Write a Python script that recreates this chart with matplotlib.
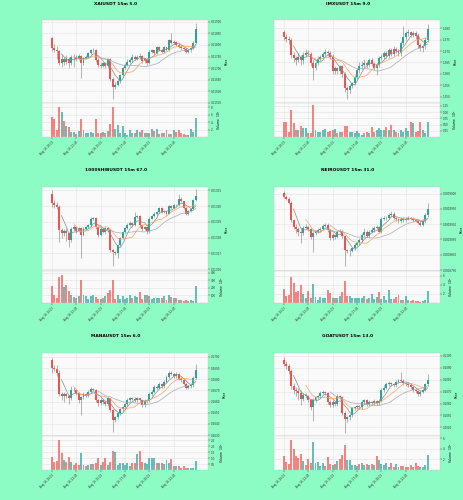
import numpy as np
import pandas as pd
import matplotlib
matplotlib.use('Agg')
import matplotlib.pyplot as plt
from matplotlib.ticker import FormatStrFormatter

# ---- data (prices stored as integers, divided by the unit below) ----
xai_open0 = 21829
xai_close = [21786,21779,21774,21724,21741,21727,21739,21721,21747,21750,
             21741,21753,21721,21743,21747,21764,21776,21779,21736,21714,
             21710,21721,21707,21739,21653,21619,21629,21643,21671,21700,
             21714,21727,21733,21750,21739,21747,21753,21729,21739,21721,
             21771,21776,21767,21790,21779,21771,21790,21779,21819,21810,
             21814,21800,21793,21786,21781,21771,21776,21786,21810,21867]
xai_high = [21836,21805,21795,21780,21760,21750,21755,21748,21758,21762,
            21755,21760,21758,21750,21755,21768,21782,21786,21783,21745,
            21725,21728,21726,21745,21742,21660,21640,21650,21676,21706,
            21720,21740,21745,21760,21757,21756,21765,21757,21744,21745,
            21776,21781,21780,21795,21794,21784,21795,21793,21825,21850,
            21822,21818,21806,21798,21792,21785,21782,21792,21815,21893]
xai_low = [21775,21770,21740,21715,21705,21712,21718,21700,21712,21705,
           21730,21735,21657,21715,21738,21742,21760,21770,21728,21705,
           21700,21704,21700,21700,21645,21567,21612,21622,21638,21666,
           21695,21710,21722,21727,21733,21733,21740,21722,21724,21715,
           21716,21765,21760,21762,21772,21765,21766,21773,21775,21804,
           21805,21795,21786,21780,21775,21764,21766,21770,21782,21805]
xai_vol = [5.5,5.0,1.8,8.0,6.7,4.2,3.0,2.8,1.4,1.4,0.9,1.5,5.0,2.0,1.0,
           1.2,1.3,1.0,5.0,1.2,1.1,1.4,1.2,1.6,3.4,8.2,2.2,3.2,1.2,2.9,
           1.0,0.6,1.8,1.0,1.2,1.8,1.4,2.0,1.2,1.2,1.0,2.2,1.5,2.2,0.8,
           1.0,1.0,1.8,0.8,0.9,2.0,1.4,2.0,1.0,0.8,0.6,0.5,2.3,1.3,5.2]

imx_open0 = 137854
imx_close = [137606,137518,137489,136832,136686,136613,136730,136584,136832,136934,
             136876,136467,136248,136496,136642,136730,136876,136978,136905,136759,
             136102,136248,136102,136321,136000,135372,135270,135474,135591,135854,
             136146,136321,136394,136496,136394,136584,136438,136248,136394,136686,
             136759,136905,136788,137051,136876,137080,137022,136905,137343,137606,
             137781,137839,137708,137810,137664,137270,137124,137226,137489,137956]
imx_high = [137930,137750,137650,137560,136950,136800,136900,136830,136950,137100,
            137050,136950,136600,136560,136760,136830,136960,137080,137050,137000,
            136850,136350,136320,136400,136400,136080,135480,135560,135650,135950,
            136250,136500,136550,136650,136580,136680,136700,136520,136470,136780,
            136850,137000,136980,137150,137120,137200,137180,137100,137450,138100,
            137900,137950,137900,137880,137900,137800,137350,137300,137600,138190]
imx_low = [137500,137400,137300,136700,136500,136400,136500,136400,136450,136750,
           136780,136350,135737,136150,136400,136550,136650,136800,136800,136650,
           136000,136000,136000,136000,135880,135200,134890,135150,135380,135500,
           135750,136050,136200,136300,136250,136300,136350,136150,135950,136300,
           136600,136650,136700,136700,136780,136780,136900,136800,136800,137250,
           137500,137650,137600,137600,137550,137150,137000,136950,137100,137400]
imx_vol = [0.62,0.6,0.2,1.1,0.57,0.28,0.3,0.45,0.35,0.35,0.18,0.18,1.28,0.3,0.2,
           0.2,0.3,0.32,0.2,0.25,0.3,0.32,0.15,0.2,0.2,0.45,0.45,0.2,0.2,0.18,
           0.25,0.15,0.1,0.15,0.2,0.15,0.4,0.2,0.3,0.35,0.3,0.3,0.4,0.3,0.5,
           0.3,0.2,0.15,0.3,0.2,0.35,0.25,0.6,0.55,0.2,0.25,0.6,0.3,0.15,0.6]

shib_open0 = 1330790
shib_close = [1330221,1330095,1329947,1328474,1328263,1328411,1328263,1327842,1328579,1328684,
              1328411,1328621,1328158,1328579,1328663,1328790,1329211,1329253,1328684,1328158,
              1328537,1328369,1328621,1328474,1327211,1327064,1327000,1327527,1327990,1328369,
              1328621,1328832,1328958,1328832,1329316,1329379,1328790,1328579,1328684,1328411,
              1329211,1329379,1329526,1329632,1329884,1329632,1329674,1329526,1330011,1329884,
              1330095,1330053,1330474,1330305,1329884,1329526,1329674,1329842,1330368,1330642]
shib_high = [1331000,1330400,1330250,1330050,1328600,1328550,1328600,1328350,1328700,1328800,
             1328750,1328700,1328680,1328650,1328750,1328850,1329300,1329320,1329300,1328750,
             1328650,1328600,1328700,1328680,1328520,1327300,1327150,1327600,1328050,1328450,
             1328700,1328950,1329050,1329020,1329600,1329450,1329420,1328850,1328750,1328720,
             1329300,1329450,1329600,1329700,1329950,1329930,1329750,1329720,1330080,1330100,
             1330150,1330130,1330790,1330550,1330350,1329930,1329750,1329900,1330420,1331063]
shib_low = [1329950,1329900,1329800,1327737,1328000,1328100,1327800,1327420,1327750,1328450,
            1328300,1328350,1326685,1328100,1328500,1328600,1328700,1329100,1328550,1328050,
            1328080,1328300,1328250,1328380,1327100,1326222,1326900,1326700,1327450,1327900,
            1328300,1328550,1328750,1328700,1328750,1329250,1328700,1328450,1328500,1328200,
            1328300,1329150,1329300,1329450,1329550,1329580,1329560,1329450,1329480,1329800,
            1329820,1329980,1330000,1330250,1329800,1329450,1329460,1329600,1329780,1330300]
shib_vol = [230,110,60,340,375,210,240,155,110,75,65,90,300,100,90,
            55,90,110,75,55,55,70,90,130,170,310,55,110,55,90,
            55,70,110,70,90,85,140,55,110,100,90,55,70,60,70,
            70,90,45,100,85,70,60,45,35,30,40,25,35,30,230]

neiro_open0 = 900326
neiro_close = [898913,898370,897065,891304,889130,888369,887500,886956,888804,889130,
               888369,885869,886956,887500,888043,888586,889456,889891,888043,885325,
               886412,885869,887500,887717,886195,881521,881195,881300,882064,883151,
               883695,884782,886412,887500,886195,887500,888043,888804,889130,887500,
               891847,892065,892174,892934,893478,892065,891630,890978,891847,891304,
               891847,892065,891847,891304,891200,890543,889891,890978,892934,895108]
neiro_high = [900800,899600,898900,897500,891800,890200,889000,888600,889300,890000,
              889600,888800,887500,888100,888600,889000,890000,890400,890300,888500,
              887000,886900,888000,888300,888100,886600,882000,881900,882600,883700,
              884300,885500,887100,888900,888000,888200,889000,889400,889700,889500,
              892400,892700,892800,893500,894300,893900,892500,892100,892300,892200,
              892300,892800,892500,892200,891700,891600,891000,891400,893500,897000]
neiro_low = [898500,897900,896600,890700,888400,887000,886000,883700,886400,888300,
             887800,885300,880800,886400,887000,887600,888100,889000,887500,884800,
             884900,885300,885400,887000,885600,876400,880500,879500,880800,881600,
             882700,883200,884300,885900,885700,885600,887000,887500,888300,887000,
             887000,891300,891500,891600,892400,891500,891100,890400,890500,890800,
             890800,891300,891300,890700,890700,890000,889300,889400,890500,892400]
neiro_vol = [3.1,1.6,1.7,5.6,4.3,2.4,2.6,4.0,2.0,1.0,2.7,1.2,4.1,1.3,0.6,
             1.3,1.1,1.0,2.9,2.2,1.1,1.1,1.1,1.5,2.4,4.9,1.5,1.5,1.1,1.2,
             1.1,1.2,1.2,1.5,0.9,1.2,1.9,0.9,1.3,2.5,0.9,1.5,0.7,2.8,0.8,
             0.9,1.3,1.8,0.6,0.6,1.5,0.6,0.5,0.6,0.4,0.4,0.3,0.4,0.6,2.6]

mana_open0 = 269702
mana_close = [269048,268958,268572,266726,266488,266667,266488,266280,267083,267024,
              266786,266131,266369,266726,266578,266875,267173,267083,266131,265834,
              266131,265982,265774,266280,265238,264346,264584,264941,265357,265536,
              265774,266131,266280,266250,266131,266280,266131,265685,266072,266131,
              266667,266875,267322,267262,267619,267381,267768,268214,268572,268512,
              268274,268512,268066,267917,267619,267262,267381,267470,268155,268810]
mana_high = [269950,269300,269250,268800,266900,266900,266800,266600,267400,267300,
             267150,266900,266500,266850,266800,267000,267300,267250,267150,266250,
             266300,266200,266100,266400,266350,265350,264700,265050,265450,265650,
             265900,266300,266450,266400,266380,266400,266350,266200,266200,266250,
             266850,267000,267500,267450,267800,267700,267900,268400,268750,268700,
             268600,268650,268600,268200,268000,267700,267500,267600,268300,269350]
mana_low = [268600,268700,268300,266500,266100,266000,266300,265800,266150,266900,
            266600,265900,264800,266250,266450,266450,266750,266950,265950,265650,
            265700,265800,265600,265650,265050,263300,264150,264400,264800,265200,
            265400,265600,266000,266100,266000,265950,266000,265500,265550,265900,
            266000,266500,266750,267100,267150,267250,267250,267650,268100,268400,
            268150,268150,267950,267800,267500,267100,267150,267250,267350,268050]
mana_vol = [1.05,0.65,0.75,2.55,1.4,0.8,0.7,1.1,0.7,0.4,0.6,0.4,1.4,0.4,0.35,
            0.4,0.5,0.5,0.55,1.0,0.4,0.7,1.0,0.4,0.65,1.6,1.5,0.4,0.55,0.6,
            0.4,0.6,0.3,0.55,0.6,1.3,1.6,0.7,0.55,0.5,1.0,1.0,1.0,0.6,0.55,
            0.6,0.5,0.85,0.6,0.9,0.35,0.3,0.35,0.2,0.3,0.15,0.2,0.15,0.15,0.75]

goat_open0 = 109693
goat_close = [109358,109134,108743,107458,107123,107067,106900,106341,106704,106620,
              106285,105671,106285,106509,106620,106900,106956,106900,106146,105866,
              106146,105950,106620,106565,105224,104665,104833,105028,105587,105671,
              105783,105671,106146,106285,105950,106146,106006,106229,106062,106229,
              107123,107347,107626,107738,107626,107542,107821,107961,107930,107738,
              107626,107542,107403,107123,107067,106788,106984,107179,107626,108017]
goat_high = [109950,109600,109300,108900,107700,107400,107300,107100,106900,106850,
             106750,106400,106450,106650,106750,107050,107100,107050,107000,106300,
             106300,106250,106800,106700,106650,105350,104950,105150,105700,105800,
             105900,105900,106300,106400,106350,106300,106250,106350,106300,106350,
             107300,107550,107800,107900,107850,107750,107950,108100,108650,108050,
             107850,107750,107650,107500,107250,107150,107100,107300,107750,108500]
goat_low = [109150,108900,108500,107200,106800,106600,106300,105900,106200,106450,
            106100,105450,104550,106150,106400,106500,106800,106750,106000,105700,
            105750,105800,105800,106400,105050,103550,104450,104600,104850,105450,
            105550,105500,105550,106000,105800,105800,105850,105900,105900,105900,
            106100,106950,107200,107500,107500,107400,107400,107700,107800,107600,
            107500,107400,107250,106950,106900,106600,106650,106850,107050,107500]
goat_vol = [2.7,1.6,1.2,5.6,4.0,2.6,2.3,3.0,1.7,0.9,2.1,1.3,5.2,1.3,1.6,
            0.8,1.3,0.7,2.4,1.1,1.0,1.1,1.7,2.0,2.8,4.7,1.9,1.9,1.0,1.0,
            0.7,1.1,1.3,0.9,1.1,0.9,1.2,1.0,2.7,1.8,1.2,0.9,1.3,0.6,1.3,
            0.5,1.1,0.6,0.7,0.7,0.6,0.6,0.9,0.5,1.3,0.8,0.6,0.5,1.0,2.9]

titles = ['XAIUSDT 15m 5.0', 'IMXUSDT 15m 9.0', '1000SHIBUSDT 15m 67.0',
          'NEIROUSDT 15m 31.0', 'MANAUSDT 15m 6.0', 'GOATUSDT 15m 13.0']
price_ticks = [[0.2155, 0.2160, 0.2165, 0.2170, 0.2175, 0.2180, 0.2185, 0.2190],
               [1.350, 1.355, 1.360, 1.365, 1.370, 1.375, 1.380],
               [0.01326, 0.01327, 0.01328, 0.01329, 0.01330, 0.01331],
               [0.000875, 0.000880, 0.000885, 0.000890, 0.000895, 0.000900],
               [0.263, 0.264, 0.265, 0.266, 0.267, 0.268, 0.269, 0.270],
               [0.104, 0.105, 0.106, 0.107, 0.108, 0.109, 0.110]]
vol_ticks = [[2, 4, 6, 8], [0.25, 0.5, 0.75, 1.0, 1.25], [100, 200, 300, 400],
             [2, 4, 6], [0.5, 1.0, 1.5, 2.0, 2.5], [2, 4, 6]]
vol_exp = [5, 6, 4, 6, 6, 5]
start_time = '2024-08-16 10:15'

panels = [
    dict(o0=xai_open0, c=xai_close, h=xai_high, l=xai_low, v=xai_vol, unit=1e5,
         ylim=(0.21550, 0.21907), vtop=9.2, fmt='%.5f'),
    dict(o0=imx_open0, c=imx_close, h=imx_high, l=imx_low, v=imx_vol, unit=1e5,
         ylim=(1.34715, 1.38365), vtop=1.36, fmt='%.3f'),
    dict(o0=shib_open0, c=shib_close, h=shib_high, l=shib_low, v=shib_vol, unit=1e8,
         ylim=(0.01325885, 0.0133121), vtop=425, fmt='%.5f'),
    dict(o0=neiro_open0, c=neiro_close, h=neiro_high, l=neiro_low, v=neiro_vol, unit=1e9,
         ylim=(0.000874673, 0.000902174), vtop=7.0, fmt='%.7f'),
    dict(o0=mana_open0, c=mana_close, h=mana_high, l=mana_low, v=mana_vol, unit=1e6,
         ylim=(0.262917, 0.270357), vtop=2.85, fmt='%.4f'),
    dict(o0=goat_open0, c=goat_close, h=goat_high, l=goat_low, v=goat_vol, unit=1e6,
         ylim=(0.103269, 0.110251), vtop=6.4, fmt='%.4f'),
]

BG = '#8cfcc4'
UP = '#26a69a'
DOWN = '#ef5350'
WICK = '#7a7a7a'
MA_COLORS = ['#8a8a8a', '#f4a460', '#a9a9b8']

W, H = 464, 500
fig = plt.figure(figsize=(W / 100, H / 100), dpi=100, facecolor=BG)

col_x = [42, 274]
row_y = [(20, 103, 137), (187, 271, 303), (353, 436, 470)]
title_y = [4, 170, 336]
title_x = [116, 348]


def style(ax):
    ax.set_facecolor('#fafafa')
    ax.yaxis.tick_right()
    ax.yaxis.set_label_position('right')
    ax.tick_params(labelsize=2, length=1.2, width=0.3, pad=1, colors='#333333')
    ax.grid(True, color='#e2e2e2', lw=0.4)
    ax.set_axisbelow(True)
    for s in ax.spines.values():
        s.set_linewidth(0.3)
        s.set_color('#c8c8c8')


dates = pd.date_range(start_time, periods=60, freq='15min')

for k, p in enumerate(panels):
    r, cidx = divmod(k, 2)
    top, mid, bot = row_y[r]
    x0 = col_x[cidx]
    axp = fig.add_axes([x0 / W, 1 - mid / H, 166 / W, (mid - top) / H])
    axv = fig.add_axes([x0 / W, 1 - bot / H, 166 / W, (bot - mid) / H], sharex=axp)
    style(axp)
    style(axv)

    close = np.array(p['c']) / p['unit']
    opn = np.r_[p['o0'] / p['unit'], close[:-1]]
    high = np.array(p['h']) / p['unit']
    low = np.array(p['l']) / p['unit']
    vol = np.array(p['v'])
    x = np.arange(len(close))
    up = close >= opn
    colors = np.where(up, UP, DOWN)

    span = p['ylim'][1] - p['ylim'][0]
    axp.vlines(x, low, high, color=WICK, lw=0.4, zorder=2)
    body = np.maximum(np.abs(close - opn), span * 0.004)
    axp.bar(x, body, bottom=np.minimum(opn, close), width=0.8, color=colors,
            lw=0, zorder=3)
    for n, mc in zip((5, 10, 20), MA_COLORS):
        axp.plot(x, pd.Series(close).rolling(n).mean(), color=mc, lw=0.5, zorder=4)

    axv.bar(x, vol, width=0.8, color=colors, alpha=0.7, lw=0)

    axp.set_xlim(-4, 64)
    axp.set_ylim(*p['ylim'])
    axp.set_yticks(price_ticks[k])
    axp.yaxis.set_major_formatter(FormatStrFormatter(p['fmt']))
    axp.set_ylabel('Price', fontsize=2.2, labelpad=2)
    axv.set_ylim(0, p['vtop'])
    axv.set_yticks(vol_ticks[k])
    axv.set_ylabel('Volume  $10^{%d}$' % vol_exp[k], fontsize=2.2, labelpad=2)

    ticks = list(range(0, 60, 10))
    axv.set_xticks(ticks)
    axv.set_xticklabels([dates[i].strftime('%b %d %H:%M') for i in ticks],
                        rotation=45, ha='right', rotation_mode='anchor')
    plt.setp(axp.get_xticklabels(), visible=False)

    fig.text(title_x[cidx] / W, 1 - title_y[r] / H, titles[k], ha='center',
             va='center', fontsize=3.2, fontweight='bold')

fig.savefig('out.png', dpi=100, facecolor=BG)
